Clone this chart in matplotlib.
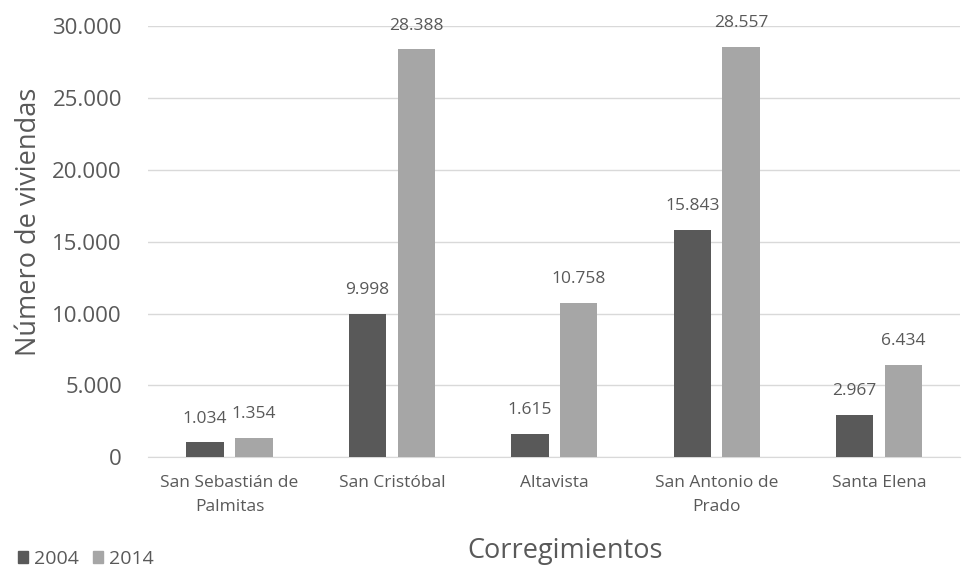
import matplotlib
matplotlib.use("Agg")
import matplotlib.pyplot as plt
import numpy as np
from matplotlib.patches import Patch
from matplotlib.ticker import FuncFormatter

categories = ["San Sebastián de\nPalmitas", "San Cristóbal", "Altavista", "San Antonio de\nPrado", "Santa Elena"]
series_names = ["2004", "2014"]
values_2004 = [1034, 9998, 1615, 15843, 2967]
values_2014 = [1354, 28388, 10758, 28557, 6434]
yticks = [0, 5000, 10000, 15000, 20000, 25000, 30000]

c_dark = "#595959"
c_light = "#a6a6a6"
txt = "#595959"

def fmt(v):
    return f"{int(v):,}".replace(",", ".")

fig = plt.figure(figsize=(9.63, 5.70), dpi=100)
ax = fig.add_axes([0.154, 0.198, 0.843, 0.756])

x = np.arange(len(categories))
w = 0.23
off = 0.15
b1 = ax.bar(x - off, values_2004, w, color=c_dark, zorder=3)
b2 = ax.bar(x + off, values_2014, w, color=c_light, zorder=3)

for bars, vals in ((b1, values_2004), (b2, values_2014)):
    for r, v in zip(bars, vals):
        ax.annotate(fmt(v), (r.get_x() + r.get_width() / 2, v), xytext=(0, 17),
                    textcoords="offset points", ha="center", va="center",
                    fontsize=12.5, color=txt, family="Open Sans", clip_on=False)

ax.set_xlim(-0.5, len(categories) - 0.5)
ax.set_ylim(0, 30000)
ax.set_yticks(yticks)
ax.yaxis.set_major_formatter(FuncFormatter(lambda v, p: fmt(v)))
ax.set_xticks(x)
ax.set_xticklabels(categories, fontsize=12.5, color=txt, family="Open Sans", linespacing=1.65)
for lab in ax.get_yticklabels():
    lab.set_fontsize(16)
    lab.set_color(txt)
    lab.set_family("Open Sans")
ax.tick_params(axis="both", length=0)
ax.tick_params(axis="y", pad=19)
ax.tick_params(axis="x", pad=13)

ax.grid(axis="y", color="#d9d9d9", linewidth=1, zorder=0)
for s in ["top", "right", "left"]:
    ax.spines[s].set_visible(False)
ax.spines["bottom"].set_color("#d9d9d9")

ax.set_ylabel("Número de viviendas", fontsize=19.5, color=txt, family="Open Sans")
ax.yaxis.set_label_coords(-0.13, 0.545)
fig.text(0.587, 0.034, "Corregimientos", fontsize=19.5, color=txt, family="Open Sans", ha="center", va="center")

handles = [Patch(color=c_dark), Patch(color=c_light)]
fig.legend(handles, series_names, loc="lower left", bbox_to_anchor=(0.0, -0.027), ncol=2,
           frameon=False, prop={"family": "Open Sans", "size": 14}, labelcolor=txt,
           handlelength=0.55, handleheight=0.55, handletextpad=0.3, columnspacing=0.7)

fig.savefig("out.png", dpi=100)
